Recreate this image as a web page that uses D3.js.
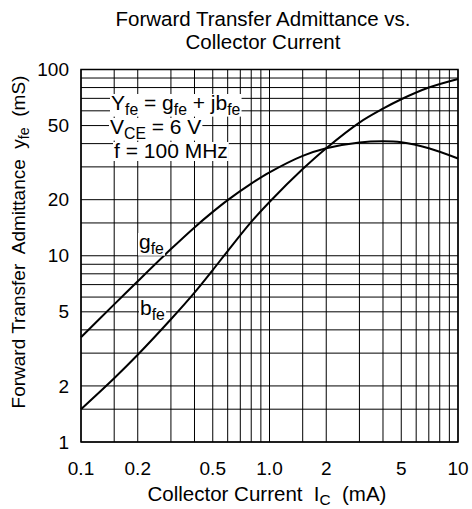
<!DOCTYPE html>
<html>
<head>
<meta charset="utf-8">
<script src="https://cdn.jsdelivr.net/npm/d3@7"></script>
<style>
  body { margin: 0; background: #fff; }
  svg { font-family: "Liberation Sans", Arial, sans-serif; }
  text { white-space: pre; }
</style>
</head>
<body>
<svg id="chart" width="472" height="509"></svg>
<script>
// collector current (mA) and the two admittance curves (mS)
const currentMA = [0.1, 0.15, 0.2, 0.3, 0.4, 0.5, 0.6, 0.8, 1, 1.5, 2, 3, 4, 5, 7, 10];
const gfe = [3.65, 5.48, 7.3, 10.86, 14.2, 17.2, 19.9, 24.4, 28.05, 34.4, 37.8, 40.6, 41.2, 40.7, 37.8, 33.3];
const bfe = [1.5, 2.2, 2.94, 4.56, 6.34, 8.38, 10.6, 15.2, 19.45, 29.2, 37.8, 51.9, 61.6, 69.2, 80, 89];

const xGrid = [0.1, 0.15, 0.2, 0.3, 0.4, 0.5, 0.6, 0.7, 0.8, 0.9, 1, 1.5, 2, 3, 4, 5, 6, 7, 8, 9, 10];
const yGrid = [1, 1.5, 2, 3, 4, 5, 6, 7, 8, 9, 10, 15, 20, 30, 40, 50, 60, 70, 80, 90, 100];
const xTicks = [0.1, 0.2, 0.5, 1, 2, 5, 10];
const xTickLabels = ["0.1", "0.2", "0.5", "1.0", "2", "5", "10"];
const yTicks = [1, 2, 5, 10, 20, 50, 100];

const dims = { left: 81, right: 458, top: 69.5, bottom: 442, tick: 19, note: 21, title: 20.5 };

const x = d3.scaleLog().domain([0.1, 10]).range([dims.left, dims.right]);
const y = d3.scaleLog().domain([1, 100]).range([dims.bottom, dims.top]);

const svg = d3.select("#chart");
const gGrid = svg.append("g").attr("stroke", "#000").attr("stroke-width", 1);

gGrid.selectAll(".vx")
  .data(xGrid)
  .join("line")
  .attr("class", "vx")
  .attr("x1", d => x(d)).attr("x2", d => x(d))
  .attr("y1", dims.top).attr("y2", dims.bottom);

gGrid.selectAll(".hy")
  .data(yGrid)
  .join("line")
  .attr("class", "hy")
  .attr("y1", d => y(d)).attr("y2", d => y(d))
  .attr("x1", dims.left).attr("x2", dims.right);

svg.append("rect")
  .attr("x", dims.left).attr("y", dims.top)
  .attr("width", dims.right - dims.left)
  .attr("height", dims.bottom - dims.top)
  .attr("fill", "none")
  .attr("stroke", "#000")
  .attr("stroke-width", 1.5);

// curves
const line = d3.line()
  .x((d, i) => x(currentMA[i]))
  .y(d => y(d))
  .curve(d3.curveCatmullRom);

svg.append("g")
  .attr("fill", "none")
  .attr("stroke", "#000")
  .attr("stroke-width", 2)
  .selectAll("path")
  .data([gfe, bfe])
  .join("path")
  .attr("d", line);

// tick labels
svg.append("g")
  .attr("font-size", dims.tick)
  .attr("text-anchor", "middle")
  .selectAll("text")
  .data(xTicks)
  .join("text")
  .attr("x", d => x(d))
  .attr("y", 475)
  .text((d, i) => xTickLabels[i]);

svg.append("g")
  .attr("font-size", dims.tick)
  .attr("text-anchor", "end")
  .selectAll("text")
  .data(yTicks)
  .join("text")
  .attr("x", 69)
  .attr("y", d => y(d))
  .attr("dy", "0.35em")
  .text(d => d);

// text with subscripts: parts are [text, isSub]
function richText(g, parts, size, dropRatio = 0.22) {
  const t = g.append("text").attr("font-size", size);
  const drop = size * dropRatio;
  let shift = 0;
  parts.forEach(([s, sub]) => {
    const want = sub ? drop : 0;
    t.append("tspan")
      .attr("font-size", sub ? size * 0.75 : size)
      .attr("dy", want - shift)
      .text(s);
    shift = want;
  });
  return t;
}

function labelBox(g, parts, px, py) {
  const t = richText(g, parts, dims.note).attr("x", px).attr("y", py);
  const b = t.node().getBBox();
  g.insert("rect", () => t.node())
    .attr("x", b.x - 1).attr("y", b.y + 3)
    .attr("width", b.width + 2).attr("height", b.height - 4)
    .attr("fill", "#fff");
  return t;
}

const gAnn = svg.append("g");
labelBox(gAnn, [["Y"], ["fe", 1], [" = g"], ["fe", 1], [" + jb"], ["fe", 1]], 111, 110);
labelBox(gAnn, [["V"], ["CE", 1], [" = 6 V"]], 110, 134);
labelBox(gAnn, [["f = 100 MHz"]], 114, 158);
labelBox(gAnn, [["g"], ["fe", 1]], 139, 249);
labelBox(gAnn, [["b"], ["fe", 1]], 140, 315);

// titles
svg.append("g")
  .attr("font-size", dims.title)
  .attr("text-anchor", "middle")
  .selectAll("text")
  .data(["Forward Transfer Admittance vs.", "Collector Current"])
  .join("text")
  .attr("x", 263)
  .attr("y", (d, i) => 26 + i * 23)
  .text(d => d);

richText(svg, [["Collector Current  I"], ["C", 1], ["  (mA)"]], 20.5, 0.18)
  .attr("x", 267).attr("y", 501)
  .attr("text-anchor", "middle");

richText(svg, [["Forward Transfer  Admittance  y"], ["fe", 1], ["  (mS)"]], 19)
  .attr("text-anchor", "middle")
  .attr("transform", "translate(25,242) rotate(-90)");
</script>
</body>
</html>
